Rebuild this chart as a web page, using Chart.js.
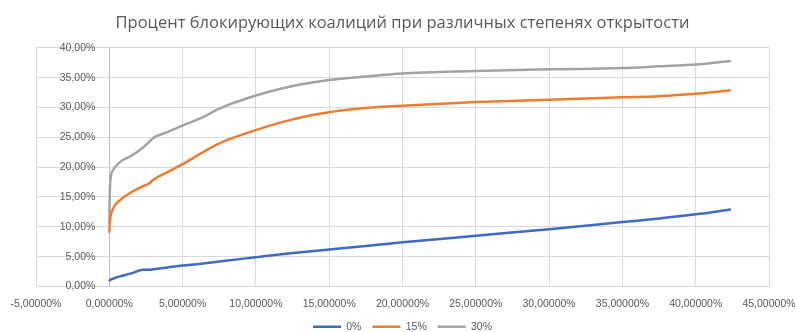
<!DOCTYPE html>
<html>
<head>
    <title>Процент блокирующих коалиций</title>
    <script src="https://cdn.jsdelivr.net/npm/chart.js"></script>
    <style>
        html, body {
            margin: 0;
            padding: 0;
            background-color: #ffffff;
        }
        .chart-container {
            position: relative;
            width: 795px;
            height: 332px;
        }
    </style>
</head>
<body>
    <div class="chart-container">
        <canvas id="coalitionChart"></canvas>
    </div>

    <script>
        // openness, % (x values shared by all series)
        const openness = [0, 0.05, 0.25, 0.7, 1.5, 2.3, 2.75, 3.0, 4.0, 5.0, 6.25, 7.5, 10, 12.5, 15, 17.5, 20, 25, 30, 35, 37.5, 40, 42.4];

        // share of blocking coalitions, %
        const series0 = [0.9, 1.1, 1.3, 1.7, 2.2, 2.8, 2.8, 2.9, 3.2, 3.5, 3.8, 4.2, 4.9, 5.6, 6.2, 6.8, 7.4, 8.5, 9.6, 10.8, 11.4, 12.1, 12.9];
        const series15 = [9.0, 11.0, 13.0, 14.4, 15.8, 16.8, 17.3, 17.9, 19.2, 20.5, 22.3, 24.0, 26.2, 28.0, 29.2, 29.9, 30.3, 30.9, 31.3, 31.7, 31.9, 32.3, 32.9];
        const series30 = [10.5, 17.0, 19.5, 20.8, 21.9, 23.3, 24.3, 24.9, 25.9, 27.0, 28.2, 29.8, 32.0, 33.6, 34.6, 35.2, 35.7, 36.1, 36.4, 36.6, 36.9, 37.2, 37.8];

        const seriesLabels = ['0%', '15%', '30%'];
        const seriesColors = ['#4169c8', '#ed7d31', '#a3a3a3'];
        const chartTitle = 'Процент блокирующих коалиций при различных степенях открытости';

        const toPoints = ys => openness.map((x, i) => ({x: x, y: ys[i]}));
        const allSeries = [series0, series15, series30];

        const datasets = allSeries.map((ys, i) => ({
            label: seriesLabels[i],
            data: toPoints(ys),
            showLine: true,
            borderColor: seriesColors[i],
            backgroundColor: seriesColors[i],
            borderWidth: 2.5,
            pointRadius: 0,
            pointStyle: 'line',
            cubicInterpolationMode: 'monotone'
        }));

        const tickFont = { family: 'Liberation Sans', size: 10.5 };
        const fmt = (v, digits) => v.toFixed(digits).replace('.', ',') + '%';

        new Chart(document.getElementById('coalitionChart'), {
            type: 'scatter',
            data: { datasets: datasets },
            options: {
                responsive: true,
                maintainAspectRatio: false,
                animation: false,
                layout: {
                    padding: { left: 36, right: 26, top: 0, bottom: -10 }
                },
                plugins: {
                    title: {
                        display: true,
                        text: chartTitle,
                        color: '#595959',
                        font: { family: 'Open Sans', size: 16.5, weight: 'normal' },
                        padding: { top: 13, bottom: 15 }
                    },
                    legend: {
                        position: 'bottom',
                        labels: {
                            usePointStyle: true,
                            pointStyleWidth: 28,
                            color: '#595959',
                            font: tickFont,
                            padding: 11
                        }
                    },
                    tooltip: { enabled: false }
                },
                scales: {
                    x: {
                        type: 'linear',
                        min: -5,
                        max: 45,
                        afterFit: s => { s.paddingLeft = 0; s.paddingRight = 0; s.height = 24; },
                        ticks: {
                            stepSize: 5,
                            color: '#595959',
                            font: tickFont,
                            padding: 11,
                            callback: v => fmt(v, 5)
                        },
                        grid: {
                            color: c => (c.tick && c.tick.value === 0 ? '#bcbcbc' : '#d9d9d9'),
                            drawTicks: false
                        },
                        border: { color: '#d4d4d4' }
                    },
                    y: {
                        // labels end a little left of the x = 0 line, as in Excel
                        position: { x: -0.95 },
                        min: 0,
                        max: 40,
                        ticks: {
                            stepSize: 5,
                            color: '#595959',
                            font: tickFont,
                            callback: v => fmt(v, 2)
                        },
                        grid: { color: '#d9d9d9', drawTicks: false },
                        border: { display: false }
                    }
                }
            }
        });
    </script>
</body>
</html>
